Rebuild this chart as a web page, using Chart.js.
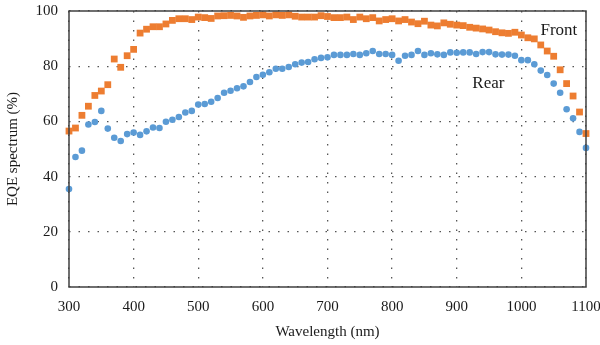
<!DOCTYPE html>
<html>
<head>
<meta charset="utf-8">
<script src="https://cdn.jsdelivr.net/npm/chart.js@4/dist/chart.umd.min.js"></script>
<style>
  html, body { margin: 0; padding: 0; background: #fff; }
  #eqeChart { display: block; }
</style>
</head>
<body>
<canvas id="eqeChart" width="600" height="345"></canvas>
<script>
// longitudes de onda (nm)
const wavelengths = [
  300, 310, 320, 330, 340, 350, 360, 370, 380, 390,
  400, 410, 420, 430, 440, 450, 460, 470, 480, 490,
  500, 510, 520, 530, 540, 550, 560, 570, 580, 590,
  600, 610, 620, 630, 640, 650, 660, 670, 680, 690,
  700, 710, 720, 730, 740, 750, 760, 770, 780, 790,
  800, 810, 820, 830, 840, 850, 860, 870, 880, 890,
  900, 910, 920, 930, 940, 950, 960, 970, 980, 990,
  1000, 1010, 1020, 1030, 1040, 1050, 1060, 1070, 1080, 1090,
  1100
];

// EQE cara frontal (%)
const frontEqe = [
  56.5, 57.6, 62.2, 65.5, 69.4, 71.0, 73.3, 82.6, 79.6, 83.8,
  86.1, 92.0, 93.4, 94.3, 94.3, 95.3, 96.6, 97.2, 97.2, 96.9,
  97.8, 97.6, 97.3, 98.2, 98.3, 98.4, 98.2, 97.7, 98.2, 98.4,
  98.6, 98.2, 98.6, 98.4, 98.6, 98.1, 97.8, 97.8, 97.8, 98.3,
  98.0, 97.6, 97.6, 97.8, 96.9, 97.8, 97.2, 97.6, 96.4, 96.9,
  97.2, 96.4, 96.9, 96.0, 95.4, 96.3, 94.9, 94.6, 95.7, 95.2,
  94.9, 94.7, 94.1, 93.8, 93.5, 93.1, 92.5, 92.1, 91.9, 92.3,
  91.3, 90.3, 89.9, 87.7, 85.5, 83.6, 78.7, 73.7, 69.2, 63.4,
  55.6
];

// EQE cara posterior (%)
const rearEqe = [
  35.5, 47.1, 49.4, 58.9, 59.8, 63.8, 57.4, 54.1, 52.9, 55.4,
  56.0, 55.1, 56.4, 57.8, 57.6, 59.9, 60.6, 61.6, 63.2, 63.8,
  66.1, 66.3, 67.1, 68.5, 70.4, 71.1, 72.0, 72.7, 74.3, 76.1,
  76.9, 77.8, 79.1, 79.1, 79.7, 80.7, 81.3, 81.5, 82.5, 83.0,
  83.2, 84.1, 84.1, 84.1, 84.4, 84.1, 84.7, 85.5, 84.4, 84.4,
  84.1, 82.0, 83.8, 84.1, 85.5, 84.1, 84.7, 84.3, 84.1, 85.0,
  84.9, 85.0, 85.0, 84.4, 85.1, 85.1, 84.3, 84.2, 84.2, 83.8,
  82.2, 82.2, 80.7, 78.4, 76.8, 73.7, 70.4, 64.4, 61.1, 56.2,
  50.4
];

// etiquetas de serie dentro del grafico
const seriesLabels = [
  { text: 'Front', x: 1058, y: 92.8 },
  { text: 'Rear', x: 949, y: 73.9 }
];

const serif = '"Liberation Serif", "Times New Roman", serif';

const toPoints = ys => wavelengths.map((w, i) => ({ x: w, y: ys[i] }));

// marco completo alrededor del area de trazado
const framePlugin = {
  id: 'frame',
  afterDatasetsDraw(chart) {
    const { ctx, chartArea: a } = chart;
    ctx.save();
    ctx.strokeStyle = '#404040';
    ctx.lineWidth = 1.5;
    ctx.strokeRect(a.left, a.top, a.right - a.left, a.bottom - a.top);
    ctx.restore();
  }
};

// texto "Front" / "Rear"
const labelPlugin = {
  id: 'seriesText',
  afterDatasetsDraw(chart) {
    const { ctx, scales } = chart;
    ctx.save();
    ctx.font = '17px ' + serif;
    ctx.fillStyle = '#1a1a1a';
    ctx.textAlign = 'center';
    ctx.textBaseline = 'middle';
    seriesLabels.forEach(l => {
      ctx.fillText(l.text, scales.x.getPixelForValue(l.x), scales.y.getPixelForValue(l.y));
    });
    ctx.restore();
  }
};

const ctx = document.getElementById('eqeChart').getContext('2d');

new Chart(ctx, {
  type: 'scatter',
  data: {
    datasets: [
      {
        label: 'Front',
        data: toPoints(frontEqe),
        pointStyle: 'rect',
        pointRadius: 4.8,
        pointHoverRadius: 4.8,
        backgroundColor: '#ED7D31',
        borderColor: '#ED7D31',
        borderWidth: 0,
        clip: false
      },
      {
        label: 'Rear',
        data: toPoints(rearEqe),
        pointStyle: 'circle',
        pointRadius: 3.3,
        pointHoverRadius: 3.3,
        backgroundColor: '#5B9BD5',
        borderColor: '#5B9BD5',
        borderWidth: 0,
        clip: false
      }
    ]
  },
  options: {
    responsive: false,
    animation: false,
    devicePixelRatio: 1,
    layout: { padding: { top: 11, right: 14, left: 0, bottom: 0 } },
    plugins: {
      legend: { display: false },
      tooltip: { enabled: false }
    },
    scales: {
      x: {
        type: 'linear',
        min: 300,
        max: 1100,
        ticks: {
          stepSize: 100,
          padding: 11,
          color: '#1a1a1a',
          font: { family: serif, size: 15 },
          callback: v => String(v)
        },
        grid: { color: '#555', lineWidth: 1.3, drawTicks: false },
        border: { display: false, dash: [1.5, 8] },
        title: {
          display: true,
          text: 'Wavelength (nm)',
          color: '#1a1a1a',
          font: { family: serif, size: 15 },
          padding: { top: 0, bottom: 4 }
        },
        afterFit(scale) {
          scale.height = 58;
          scale.paddingLeft = 0;
          scale.paddingRight = 0;
        }
      },
      y: {
        min: 0,
        max: 100,
        ticks: {
          stepSize: 20,
          padding: 11,
          color: '#1a1a1a',
          font: { family: serif, size: 15 },
          callback: v => String(v)
        },
        grid: { color: '#555', lineWidth: 1.3, drawTicks: false },
        border: { display: false, dash: [1.5, 8] },
        title: {
          display: true,
          text: 'EQE spectrum (%)',
          color: '#1a1a1a',
          font: { family: serif, size: 15 },
          padding: { top: 4, bottom: 0 }
        },
        afterFit(scale) {
          scale.width = 69;
          scale.paddingTop = 0;
          scale.paddingBottom = 0;
        }
      }
    }
  },
  plugins: [framePlugin, labelPlugin]
});
</script>
</body>
</html>
